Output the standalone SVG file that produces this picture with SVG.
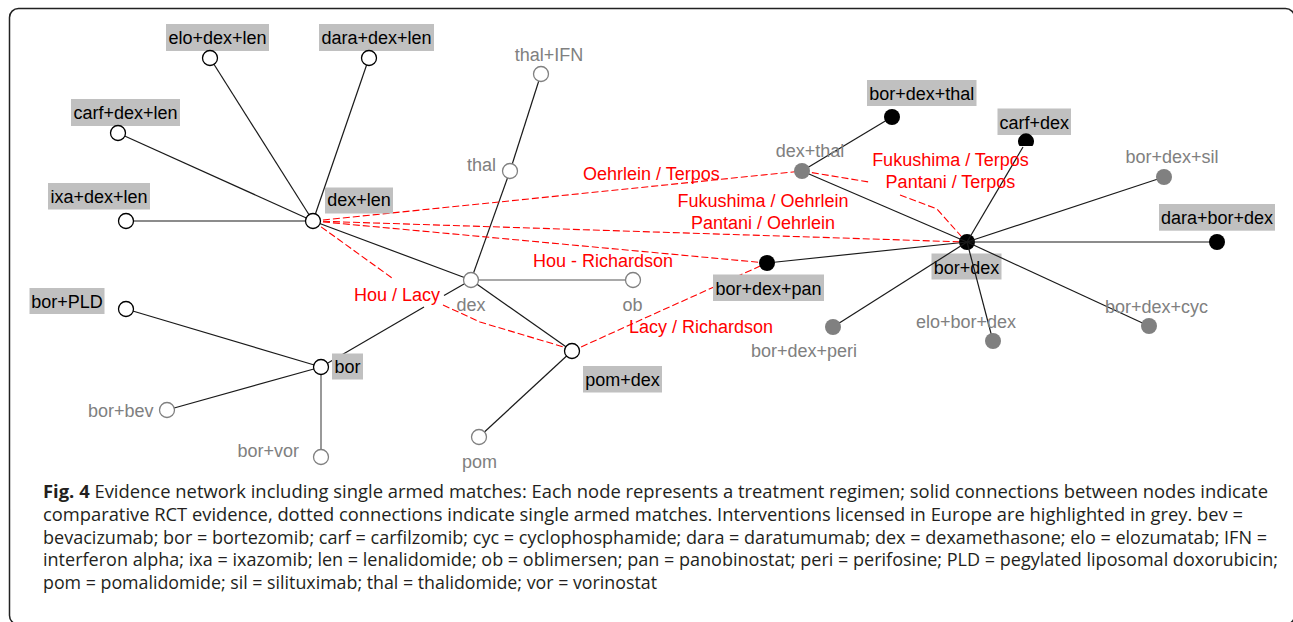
<svg xmlns="http://www.w3.org/2000/svg" width="1293" height="622" viewBox="0 0 1293 622">
<defs>
<style>
.lbl{font-family:"Liberation Sans",Arial,sans-serif;font-size:18px;fill:#000}
.glbl{font-family:"Liberation Sans",Arial,sans-serif;font-size:18px;fill:#808080}
.rlbl{font-family:"Liberation Sans",Arial,sans-serif;font-size:18px;fill:#ff0000}
.box{fill:#c0c0c0}
.e{stroke:#1a1a1a;stroke-width:1.2;fill:none}
.eg{stroke:#555;stroke-width:1.2;fill:none}
.d{stroke:#ff0000;stroke-width:1.1;fill:none;stroke-dasharray:7 3}
.no{fill:#fff;stroke:#000;stroke-width:1.3}
.ng{fill:#fff;stroke:#808080;stroke-width:1.3}
.nb{fill:#000}
.nf{fill:#808080}
.cap{font-family:"Open Sans","Noto Sans",sans-serif;font-size:18px;fill:#231f20}
</style>
</defs>
<rect x="9.5" y="8.5" width="1285" height="616" rx="9" fill="#fff" stroke="#222" stroke-width="1.5"/>

<g id="n-bor-dex"><rect class="box" x="931.5" y="253.5" width="70" height="26"/><text class="lbl" x="966.5" y="273.5" text-anchor="middle">bor+dex</text><circle class="nb" cx="967" cy="242" r="8"/></g>

<g id="connectors">
<line class="e" x1="313" y1="221" x2="210" y2="58"/>
<line class="e" x1="313" y1="221" x2="369" y2="58"/>
<line class="e" x1="313" y1="221" x2="118" y2="133"/>
<line class="e" x1="313" y1="221" x2="126" y2="221"/>
<line class="e" x1="313" y1="221" x2="471" y2="280"/>
<line class="e" x1="541" y1="74" x2="510" y2="171"/>
<line class="e" x1="510" y1="171" x2="471" y2="280"/>
<line class="eg" x1="471" y1="280" x2="633" y2="280"/>
<line class="e" x1="471" y1="280" x2="572" y2="351"/>
<line class="e" x1="321" y1="367" x2="424" y2="307"/>
<line class="e" x1="444" y1="295.5" x2="471" y2="280"/>
<line class="e" x1="321" y1="367" x2="126" y2="309"/>
<line class="e" x1="321" y1="367" x2="167" y2="410"/>
<line class="eg" x1="321" y1="367" x2="321" y2="457"/>
<line class="e" x1="572" y1="351" x2="479" y2="437"/>
<line class="e" x1="767" y1="263" x2="967" y2="242"/>
<line class="e" x1="802" y1="171" x2="892" y2="117"/>
<line class="e" x1="802" y1="171" x2="967" y2="242"/>
<line class="e" x1="1023" y1="147" x2="967" y2="242"/>
<line class="e" x1="967" y1="242" x2="1164" y2="177"/>
<line class="e" x1="967" y1="242" x2="1217" y2="242"/>
<line class="e" x1="967" y1="242" x2="1149" y2="326"/>
<line class="e" x1="967" y1="242" x2="993" y2="341"/>
<line class="e" x1="967" y1="242" x2="833" y2="327"/>
<line class="d" x1="313" y1="221" x2="802" y2="171"/>
<line class="d" x1="313" y1="221" x2="959" y2="241.8"/>
<line class="d" x1="313" y1="221" x2="767" y2="263"/>
<line class="d" x1="572" y1="351" x2="767" y2="263"/>
<polyline class="d" points="313,221 392,278"/>
<polyline class="d" points="443,305 480,322 567,348"/>
<polyline class="d" points="802,171 869,182"/>
<polyline class="d" points="900,195 937,209 961,236"/>
<text class="rlbl" x="583" y="180">Oehrlein / Terpos</text>
<text class="rlbl" x="763" y="206.5" text-anchor="middle">Fukushima / Oehrlein</text>
<text class="rlbl" x="763" y="228.5" text-anchor="middle">Pantani / Oehrlein</text>
<text class="rlbl" x="533" y="266.5">Hou - Richardson</text>
<text class="rlbl" x="354" y="300.5">Hou / Lacy</text>
<text class="rlbl" x="629" y="333">Lacy / Richardson</text>
<text class="rlbl" x="950.5" y="166" text-anchor="middle">Fukushima / Terpos</text>
<text class="rlbl" x="950.5" y="187.5" text-anchor="middle">Pantani / Terpos</text>
</g>

<g id="n-dex-len"><rect class="box" x="325" y="187.5" width="68" height="26"/><text class="lbl" x="359" y="206" text-anchor="middle">dex+len</text><circle class="no" cx="313" cy="221" r="7.5"/></g>
<g id="n-elo-dex-len"><rect class="box" x="166" y="24" width="103" height="27"/><text class="lbl" x="217.5" y="44.3" text-anchor="middle">elo+dex+len</text><circle class="no" cx="210" cy="58" r="7.5"/></g>
<g id="n-dara-dex-len"><rect class="box" x="319" y="24" width="115" height="27"/><text class="lbl" x="376.5" y="44.3" text-anchor="middle">dara+dex+len</text><circle class="no" cx="369" cy="58" r="7.5"/></g>
<g id="n-carf-dex-len"><rect class="box" x="71" y="99" width="109" height="27"/><text class="lbl" x="125.5" y="119" text-anchor="middle">carf+dex+len</text><circle class="no" cx="118" cy="133" r="7.5"/></g>
<g id="n-ixa-dex-len"><rect class="box" x="48" y="183" width="102" height="26.5"/><text class="lbl" x="99" y="203" text-anchor="middle">ixa+dex+len</text><circle class="no" cx="126" cy="221" r="7.5"/></g>
<g id="n-thal-ifn"><text class="glbl" x="549" y="60.7" text-anchor="middle">thal+IFN</text><circle class="ng" cx="541" cy="74" r="7.5"/></g>
<g id="n-thal"><text class="glbl" x="496" y="171" text-anchor="end">thal</text><circle class="ng" cx="510" cy="171" r="7.5"/></g>
<g id="n-dex"><text class="glbl" x="471" y="310.7" text-anchor="middle">dex</text><circle class="ng" cx="471" cy="280" r="7.5"/></g>
<g id="n-ob"><text class="glbl" x="632.5" y="310.7" text-anchor="middle">ob</text><circle class="ng" cx="633" cy="280" r="7.5"/></g>
<g id="n-pom-dex"><rect class="box" x="583" y="366" width="79" height="26.5"/><text class="lbl" x="622.5" y="386" text-anchor="middle">pom+dex</text><circle class="no" cx="572" cy="351" r="7.5"/></g>
<g id="n-pom"><text class="glbl" x="479.5" y="468" text-anchor="middle">pom</text><circle class="ng" cx="479" cy="437" r="7.5"/></g>
<g id="n-bor"><rect class="box" x="332" y="353.5" width="31" height="26"/><text class="lbl" x="347.5" y="373" text-anchor="middle">bor</text><circle class="no" cx="321" cy="367" r="7.5"/></g>
<g id="n-bor-pld"><rect class="box" x="29.5" y="288" width="75" height="26"/><text class="lbl" x="67" y="308" text-anchor="middle">bor+PLD</text><circle class="no" cx="126" cy="309" r="7.5"/></g>
<g id="n-bor-bev"><text class="glbl" x="153.5" y="416.7" text-anchor="end">bor+bev</text><circle class="ng" cx="167" cy="410" r="7.5"/></g>
<g id="n-bor-vor"><text class="glbl" x="299" y="456.7" text-anchor="end">bor+vor</text><circle class="ng" cx="321" cy="457" r="7.5"/></g>
<g id="n-bor-dex-pan"><rect class="box" x="713" y="274.5" width="111" height="26.5"/><text class="lbl" x="768.5" y="294.5" text-anchor="middle">bor+dex+pan</text><circle class="nb" cx="767" cy="263" r="8"/></g>
<g id="n-bor-dex-thal"><rect class="box" x="867" y="80" width="109.5" height="26"/><text class="lbl" x="921.7" y="100" text-anchor="middle">bor+dex+thal</text><circle class="nb" cx="892" cy="117" r="8"/></g>
<g id="n-carf-dex"><rect class="box" x="997.5" y="108.5" width="73.5" height="26.5"/><text class="lbl" x="1034.2" y="128.5" text-anchor="middle">carf+dex</text><path class="nb" d="M1019.5 146 A8 8 0 1 1 1032.5 146 Z"/></g>
<g id="n-dex-thal"><text class="glbl" x="810" y="157.3" text-anchor="middle">dex+thal</text><circle class="nf" cx="802" cy="171" r="8"/></g>
<g id="n-bor-dex-sil"><text class="glbl" x="1172" y="163.3" text-anchor="middle">bor+dex+sil</text><circle class="nf" cx="1164" cy="177" r="8"/></g>
<g id="n-dara-bor-dex"><rect class="box" x="1159" y="204" width="116" height="26.7"/><text class="lbl" x="1217" y="224.3" text-anchor="middle">dara+bor+dex</text><circle class="nb" cx="1217" cy="242" r="8"/></g>
<g id="n-bor-dex-cyc"><text class="glbl" x="1156.5" y="313.3" text-anchor="middle">bor+dex+cyc</text><circle class="nf" cx="1149" cy="326" r="8"/></g>
<g id="n-elo-bor-dex"><text class="glbl" x="966" y="328.3" text-anchor="middle">elo+bor+dex</text><circle class="nf" cx="993" cy="341" r="8"/></g>
<g id="n-bor-dex-peri"><text class="glbl" x="804" y="356.7" text-anchor="middle">bor+dex+peri</text><circle class="nf" cx="833" cy="327" r="8"/></g>

<g id="caption">
<text class="cap" x="43" y="498" textLength="1225" lengthAdjust="spacingAndGlyphs"><tspan font-weight="bold">Fig. 4</tspan> Evidence network including single armed matches: Each node represents a treatment regimen; solid connections between nodes indicate</text>
<text class="cap" x="43" y="521" textLength="1200" lengthAdjust="spacingAndGlyphs">comparative RCT evidence, dotted connections indicate single armed matches. Interventions licensed in Europe are highlighted in grey. bev =</text>
<text class="cap" x="43" y="543.7" textLength="1224" lengthAdjust="spacingAndGlyphs">bevacizumab; bor = bortezomib; carf = carfilzomib; cyc = cyclophosphamide; dara = daratumumab; dex = dexamethasone; elo = elozumatab; IFN =</text>
<text class="cap" x="43" y="566.3" textLength="1235" lengthAdjust="spacingAndGlyphs">interferon alpha; ixa = ixazomib; len = lenalidomide; ob = oblimersen; pan = panobinostat; peri = perifosine; PLD = pegylated liposomal doxorubicin;</text>
<text class="cap" x="43" y="588.7" textLength="614" lengthAdjust="spacingAndGlyphs">pom = pomalidomide; sil = silituximab; thal = thalidomide; vor = vorinostat</text>
</g>
</svg>
